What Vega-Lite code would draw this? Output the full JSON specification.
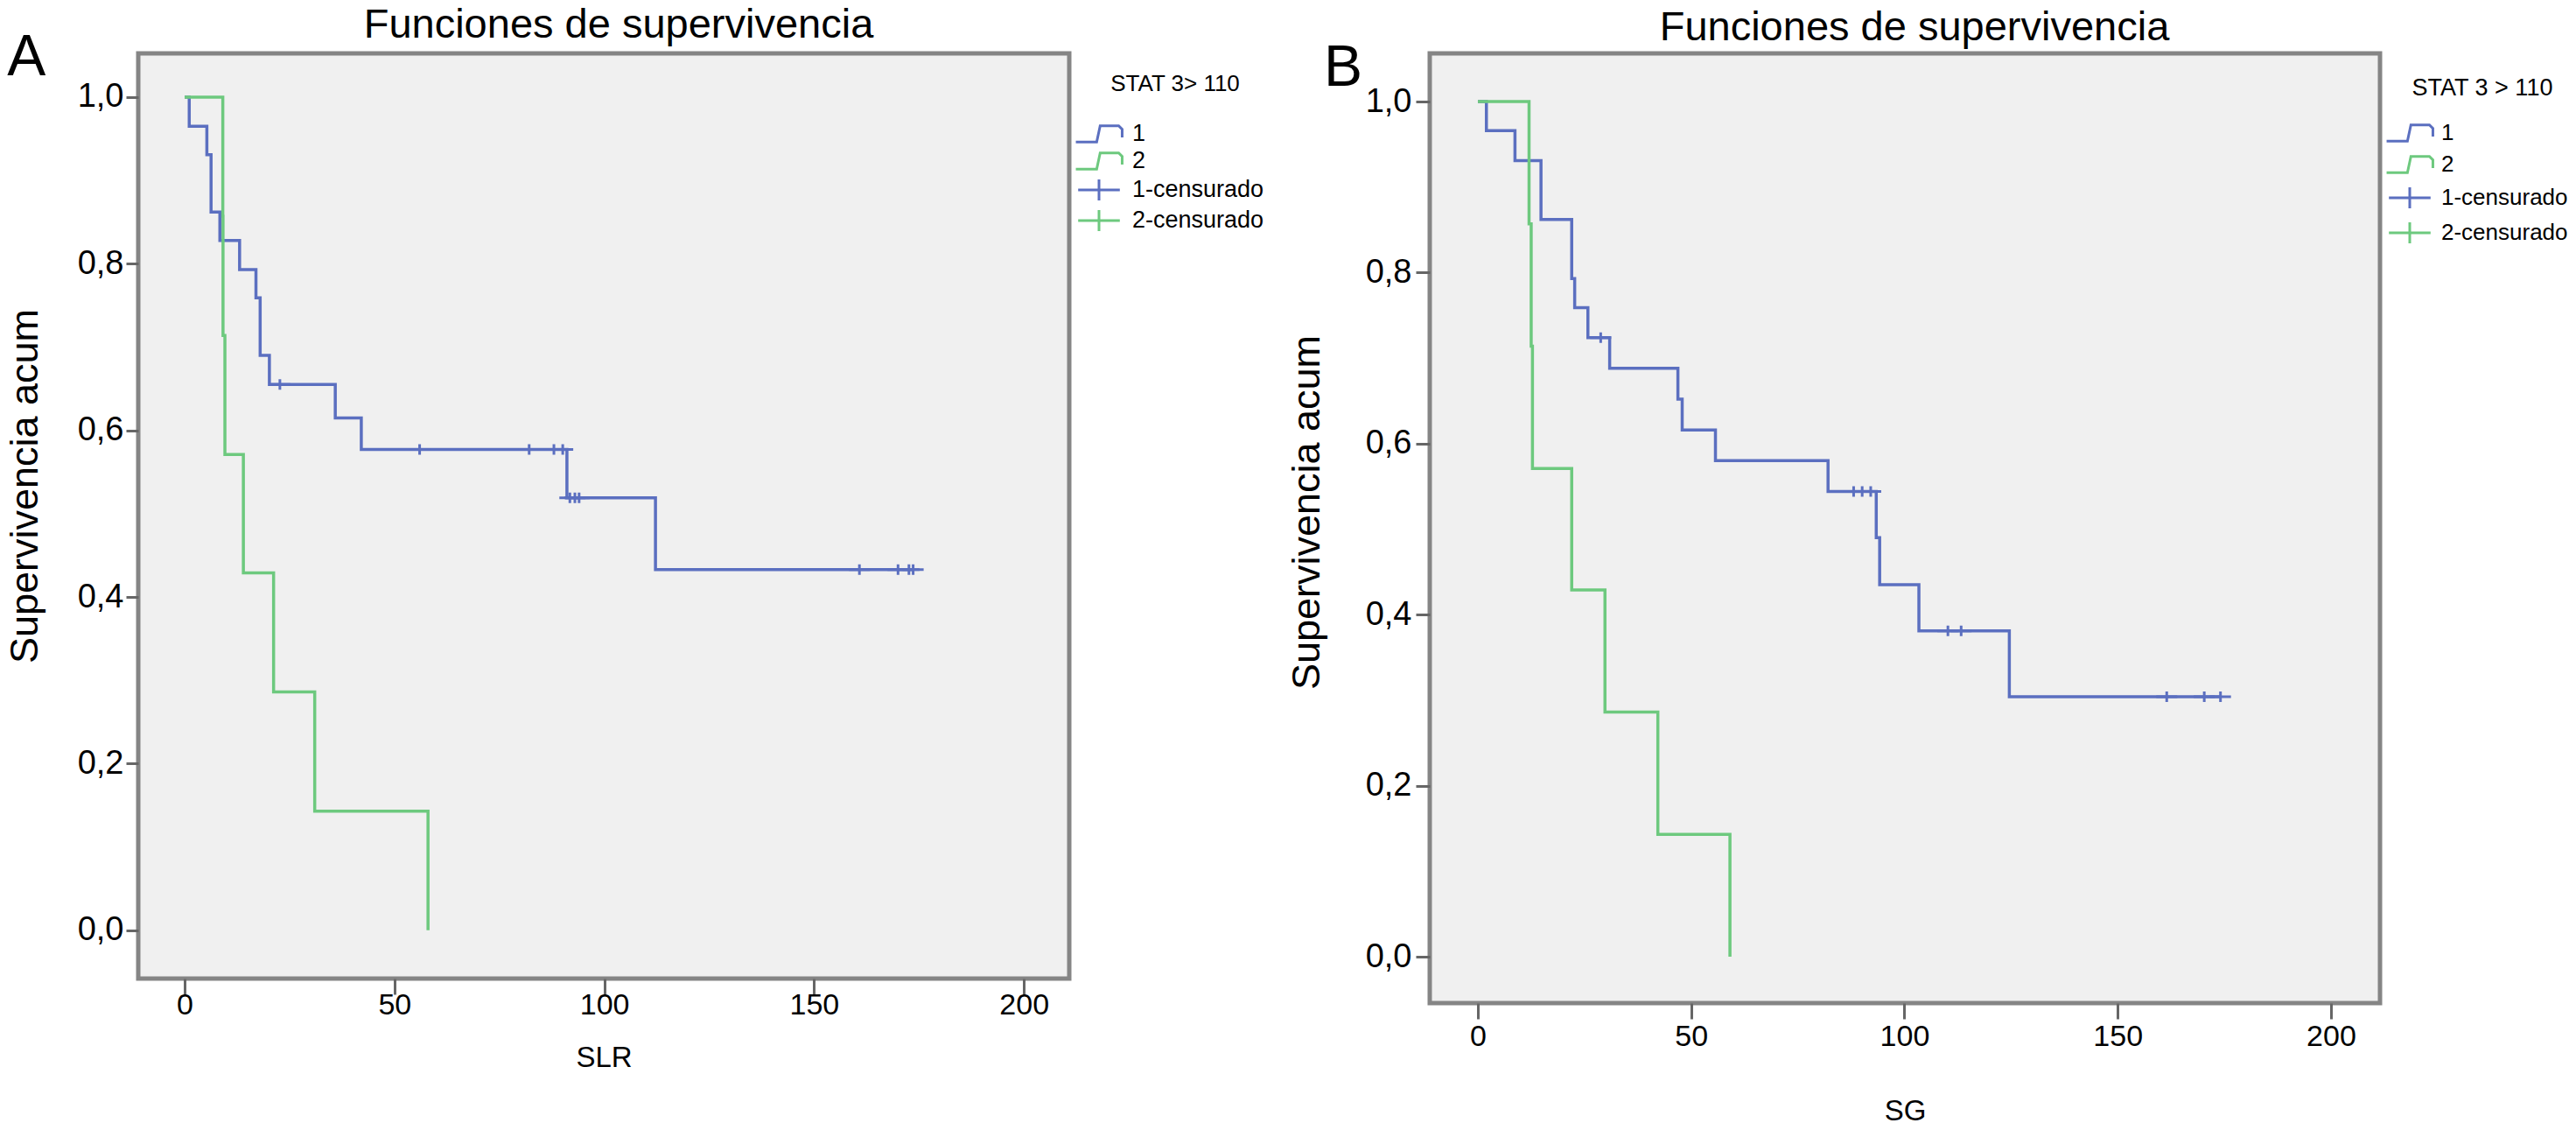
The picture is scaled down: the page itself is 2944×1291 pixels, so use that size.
{
  "$schema": "https://vega.github.io/schema/vega-lite/v6.json",
  "description": "Curvas de Kaplan-Meier: SLR y SG segun STAT 3 > 110",
  "background": "white",
  "padding": {"left": 3, "top": 2, "right": 0, "bottom": 0},
  "spacing": 20,
  "resolve": {
    "scale": {"x": "independent", "y": "independent", "color": "independent", "shape": "independent", "stroke": "independent"},
    "legend": {"color": "independent", "shape": "independent"}
  },
  "config": {
    "font": "Liberation Sans",
    "view": {"fill": "#f0f0f0", "stroke": "#858585", "strokeWidth": 5},
    "title": {"fontSize": 47, "fontWeight": "normal", "color": "#000000", "anchor": "middle"},
    "axis": {
      "domain": false, "grid": false, "tickColor": "#666666", "tickWidth": 3,
      "labelColor": "#000000", "labelFlush": false, "titleColor": "#000000", "titleFontWeight": "normal"
    },
    "legend": {"padding": 0, "labelColor": "#000000", "titleColor": "#000000", "titleFontWeight": "normal", "titleLimit": 500, "labelLimit": 400}
  },
  "datasets": {
    "slr": [
      {"grupo": "1", "tiempo": 0, "supervivencia": 1.0},
      {"grupo": "1", "tiempo": 1.1, "supervivencia": 0.965},
      {"grupo": "1", "tiempo": 5.3, "supervivencia": 0.931},
      {"grupo": "1", "tiempo": 6.3, "supervivencia": 0.862},
      {"grupo": "1", "tiempo": 8.4, "supervivencia": 0.828},
      {"grupo": "1", "tiempo": 13.1, "supervivencia": 0.793},
      {"grupo": "1", "tiempo": 17.0, "supervivencia": 0.759},
      {"grupo": "1", "tiempo": 18.0, "supervivencia": 0.690},
      {"grupo": "1", "tiempo": 20.2, "supervivencia": 0.655},
      {"grupo": "1", "tiempo": 35.9, "supervivencia": 0.615},
      {"grupo": "1", "tiempo": 42.1, "supervivencia": 0.577},
      {"grupo": "1", "tiempo": 91.1, "supervivencia": 0.519},
      {"grupo": "1", "tiempo": 112.2, "supervivencia": 0.433},
      {"grupo": "1", "tiempo": 173.6, "supervivencia": 0.433},
      {"grupo": "2", "tiempo": 0, "supervivencia": 1.0},
      {"grupo": "2", "tiempo": 9.1, "supervivencia": 0.857},
      {"grupo": "2", "tiempo": 9.15, "supervivencia": 0.714},
      {"grupo": "2", "tiempo": 9.6, "supervivencia": 0.571},
      {"grupo": "2", "tiempo": 14.0, "supervivencia": 0.429},
      {"grupo": "2", "tiempo": 21.2, "supervivencia": 0.286},
      {"grupo": "2", "tiempo": 31.0, "supervivencia": 0.143},
      {"grupo": "2", "tiempo": 58.0, "supervivencia": 0.0}
    ],
    "slr_cens": [
      {"grupo": "1-censurado", "tiempo": 22.7, "supervivencia": 0.655},
      {"grupo": "1-censurado", "tiempo": 56.0, "supervivencia": 0.577},
      {"grupo": "1-censurado", "tiempo": 82.1, "supervivencia": 0.577},
      {"grupo": "1-censurado", "tiempo": 88.0, "supervivencia": 0.577},
      {"grupo": "1-censurado", "tiempo": 90.1, "supervivencia": 0.577},
      {"grupo": "1-censurado", "tiempo": 91.8, "supervivencia": 0.519},
      {"grupo": "1-censurado", "tiempo": 93.0, "supervivencia": 0.519},
      {"grupo": "1-censurado", "tiempo": 94.0, "supervivencia": 0.519},
      {"grupo": "1-censurado", "tiempo": 160.8, "supervivencia": 0.433},
      {"grupo": "1-censurado", "tiempo": 170.0, "supervivencia": 0.433},
      {"grupo": "1-censurado", "tiempo": 172.6, "supervivencia": 0.433},
      {"grupo": "1-censurado", "tiempo": 173.6, "supervivencia": 0.433}
    ],
    "sg": [
      {"grupo": "1", "tiempo": 0, "supervivencia": 1.0},
      {"grupo": "1", "tiempo": 2.0, "supervivencia": 0.966},
      {"grupo": "1", "tiempo": 8.7, "supervivencia": 0.931},
      {"grupo": "1", "tiempo": 14.8, "supervivencia": 0.862},
      {"grupo": "1", "tiempo": 22.0, "supervivencia": 0.793},
      {"grupo": "1", "tiempo": 22.7, "supervivencia": 0.759},
      {"grupo": "1", "tiempo": 25.8, "supervivencia": 0.724},
      {"grupo": "1", "tiempo": 30.9, "supervivencia": 0.688},
      {"grupo": "1", "tiempo": 46.9, "supervivencia": 0.652},
      {"grupo": "1", "tiempo": 47.9, "supervivencia": 0.616},
      {"grupo": "1", "tiempo": 55.7, "supervivencia": 0.580},
      {"grupo": "1", "tiempo": 82.1, "supervivencia": 0.544},
      {"grupo": "1", "tiempo": 93.4, "supervivencia": 0.490},
      {"grupo": "1", "tiempo": 94.2, "supervivencia": 0.435},
      {"grupo": "1", "tiempo": 103.4, "supervivencia": 0.381},
      {"grupo": "1", "tiempo": 124.6, "supervivencia": 0.304},
      {"grupo": "1", "tiempo": 174.1, "supervivencia": 0.304},
      {"grupo": "2", "tiempo": 0, "supervivencia": 1.0},
      {"grupo": "2", "tiempo": 12.0, "supervivencia": 0.857},
      {"grupo": "2", "tiempo": 12.5, "supervivencia": 0.714},
      {"grupo": "2", "tiempo": 12.8, "supervivencia": 0.571},
      {"grupo": "2", "tiempo": 22.0, "supervivencia": 0.429},
      {"grupo": "2", "tiempo": 29.8, "supervivencia": 0.286},
      {"grupo": "2", "tiempo": 42.2, "supervivencia": 0.143},
      {"grupo": "2", "tiempo": 59.1, "supervivencia": 0.0}
    ],
    "sg_cens": [
      {"grupo": "1-censurado", "tiempo": 28.8, "supervivencia": 0.724},
      {"grupo": "1-censurado", "tiempo": 88.1, "supervivencia": 0.544},
      {"grupo": "1-censurado", "tiempo": 90.1, "supervivencia": 0.544},
      {"grupo": "1-censurado", "tiempo": 92.1, "supervivencia": 0.544},
      {"grupo": "1-censurado", "tiempo": 110.2, "supervivencia": 0.381},
      {"grupo": "1-censurado", "tiempo": 113.3, "supervivencia": 0.381},
      {"grupo": "1-censurado", "tiempo": 161.5, "supervivencia": 0.304},
      {"grupo": "1-censurado", "tiempo": 170.3, "supervivencia": 0.304},
      {"grupo": "1-censurado", "tiempo": 174.1, "supervivencia": 0.304}
    ],
    "panel_a": [{"panel": "A"}],
    "panel_b": [{"panel": "B"}]
  },
  "hconcat": [
    {
      "width": 1064,
      "height": 1057,
      "title": {"text": "Funciones de supervivencia", "dx": 17, "offset": -20},
      "layer": [
        {
          "data": {"name": "slr"},
          "mark": {"type": "line", "interpolate": "step-after", "strokeWidth": 3.5},
          "encoding": {
            "x": {
              "field": "tiempo", "type": "quantitative",
              "scale": {"domain": [-11.05, 210.8], "nice": false, "zero": false},
              "axis": {"title": "SLR", "values": [0, 50, 100, 150, 200], "tickSize": 18, "labelFontSize": 34, "labelPadding": -5, "titleFontSize": 33, "titlePadding": 27}
            },
            "y": {
              "field": "supervivencia", "type": "quantitative",
              "scale": {"domain": [-0.058, 1.0525], "nice": false, "zero": false},
              "axis": {
                "title": "Supervivencia acum", "values": [0, 0.2, 0.4, 0.6, 0.8, 1],
                "labelExpr": "replace(format(datum.value, '.1f'), '.', ',')",
                "tickSize": 14, "labelFontSize": 38, "labelPadding": 3,
                "titleFontSize": 45, "titlePadding": 37, "titleY": 494
              }
            },
            "stroke": {"field": "grupo", "type": "nominal", "scale": {"domain": ["1", "2"], "range": ["#5b6fc0", "#6dc97e"]}, "legend": null}
          }
        },
        {
          "data": {"name": "slr_cens"},
          "mark": {"type": "point", "filled": false, "size": 178, "strokeWidth": 3, "opacity": 1},
          "encoding": {
            "x": {
              "field": "tiempo", "type": "quantitative",
              "axis": {"title": "SLR", "values": [0, 50, 100, 150, 200], "tickSize": 18, "labelFontSize": 34, "labelPadding": -5, "titleFontSize": 33, "titlePadding": 27}
            },
            "y": {
              "field": "supervivencia", "type": "quantitative",
              "axis": {
                "title": "Supervivencia acum", "values": [0, 0.2, 0.4, 0.6, 0.8, 1],
                "labelExpr": "replace(format(datum.value, '.1f'), '.', ',')",
                "tickSize": 14, "labelFontSize": 38, "labelPadding": 3,
                "titleFontSize": 45, "titlePadding": 37, "titleY": 494
              }
            },
            "color": {
              "field": "grupo", "type": "nominal",
              "scale": {"domain": ["1", "2", "1-censurado", "2-censurado"], "range": ["#5b6fc0", "#6dc97e", "#5b6fc0", "#6dc97e"]},
              "legend": {
                "title": "STAT 3> 110", "orient": "none", "legendX": 1083, "legendY": 22,
                "titleFontSize": 26, "titleAnchor": "middle", "titlePadding": 29,
                "labelFontSize": 27, "labelOffset": 23, "rowPadding": -1,
                "symbolSize": 700, "symbolStrokeWidth": 3,
                "encode": {"symbols": {"update": {"size": {"value": 700}, "strokeWidth": {"value": 3}, "fill": {"value": "transparent"}}}}
              }
            },
            "shape": {
              "field": "grupo", "type": "nominal",
              "scale": {
                "domain": ["1", "2", "1-censurado", "2-censurado"],
                "range": [
                  "M-2,0.7L-0.2,0.7L0.1,-0.7L1.7,-0.7L2,-0.4L2,0.3",
                  "M-2,0.7L-0.2,0.7L0.1,-0.7L1.7,-0.7L2,-0.4L2,0.3",
                  "M-1.8,0L1.8,0M0,-0.9L0,0.9",
                  "M-1.8,0L1.8,0M0,-0.9L0,0.9"
                ]
              },
              "legend": {
                "title": "STAT 3> 110", "orient": "none", "legendX": 1083, "legendY": 22,
                "titleFontSize": 26, "titleAnchor": "middle", "titlePadding": 29,
                "labelFontSize": 27, "labelOffset": 23, "rowPadding": -1,
                "symbolSize": 700, "symbolStrokeWidth": 3,
                "encode": {"symbols": {"update": {"size": {"value": 700}, "strokeWidth": {"value": 3}, "fill": {"value": "transparent"}}}}
              }
            }
          }
        },
        {
          "data": {"name": "panel_a"},
          "mark": {"type": "text", "fontSize": 66, "align": "center", "baseline": "alphabetic", "color": "#000000"},
          "encoding": {
            "x": {
              "datum": -37.7, "type": "quantitative",
              "axis": {"title": "SLR", "values": [0, 50, 100, 150, 200], "tickSize": 18, "labelFontSize": 34, "labelPadding": -5, "titleFontSize": 33, "titlePadding": 27}
            },
            "y": {
              "datum": 1.026, "type": "quantitative",
              "axis": {
                "title": "Supervivencia acum", "values": [0, 0.2, 0.4, 0.6, 0.8, 1],
                "labelExpr": "replace(format(datum.value, '.1f'), '.', ',')",
                "tickSize": 14, "labelFontSize": 38, "labelPadding": 3,
                "titleFontSize": 45, "titlePadding": 37, "titleY": 494
              }
            },
            "text": {"field": "panel"}
          }
        }
      ]
    },
    {
      "width": 1086,
      "height": 1085,
      "title": {"text": "Funciones de supervivencia", "dx": 11, "offset": -11},
      "layer": [
        {
          "data": {"name": "sg"},
          "mark": {"type": "line", "interpolate": "step-after", "strokeWidth": 3.5},
          "encoding": {
            "x": {
              "field": "tiempo", "type": "quantitative",
              "scale": {"domain": [-11.28, 211.5], "nice": false, "zero": false},
              "axis": {"title": "SG", "values": [0, 50, 100, 150, 200], "tickSize": 18, "labelFontSize": 34, "labelPadding": 3, "titleFontSize": 33, "titlePadding": 52}
            },
            "y": {
              "field": "supervivencia", "type": "quantitative",
              "scale": {"domain": [-0.0542, 1.0563], "nice": false, "zero": false},
              "axis": {
                "title": "Supervivencia acum", "values": [0, 0.2, 0.4, 0.6, 0.8, 1],
                "labelExpr": "replace(format(datum.value, '.1f'), '.', ',')",
                "tickSize": 16, "labelFontSize": 38, "labelPadding": 5,
                "titleFontSize": 45, "titlePadding": 44, "titleY": 524
              }
            },
            "stroke": {"field": "grupo", "type": "nominal", "scale": {"domain": ["1", "2"], "range": ["#5b6fc0", "#6dc97e"]}, "legend": null}
          }
        },
        {
          "data": {"name": "sg_cens"},
          "mark": {"type": "point", "filled": false, "size": 178, "strokeWidth": 3, "opacity": 1},
          "encoding": {
            "x": {
              "field": "tiempo", "type": "quantitative",
              "axis": {"title": "SG", "values": [0, 50, 100, 150, 200], "tickSize": 18, "labelFontSize": 34, "labelPadding": 3, "titleFontSize": 33, "titlePadding": 52}
            },
            "y": {
              "field": "supervivencia", "type": "quantitative",
              "axis": {
                "title": "Supervivencia acum", "values": [0, 0.2, 0.4, 0.6, 0.8, 1],
                "labelExpr": "replace(format(datum.value, '.1f'), '.', ',')",
                "tickSize": 16, "labelFontSize": 38, "labelPadding": 5,
                "titleFontSize": 45, "titlePadding": 44, "titleY": 524
              }
            },
            "color": {
              "field": "grupo", "type": "nominal",
              "scale": {"domain": ["1", "2", "1-censurado", "2-censurado"], "range": ["#5b6fc0", "#6dc97e", "#5b6fc0", "#6dc97e"]},
              "legend": {
                "title": "STAT 3 > 110", "orient": "none", "legendX": 1105, "legendY": 27,
                "titleFontSize": 27, "titleAnchor": "middle", "titlePadding": 22,
                "labelFontSize": 26, "labelOffset": 21, "rowPadding": 4,
                "symbolSize": 700, "symbolStrokeWidth": 3,
                "encode": {"symbols": {"update": {"size": {"value": 700}, "strokeWidth": {"value": 3}, "fill": {"value": "transparent"}}}}
              }
            },
            "shape": {
              "field": "grupo", "type": "nominal",
              "scale": {
                "domain": ["1", "2", "1-censurado", "2-censurado"],
                "range": [
                  "M-2,0.7L-0.2,0.7L0.1,-0.7L1.7,-0.7L2,-0.4L2,0.3",
                  "M-2,0.7L-0.2,0.7L0.1,-0.7L1.7,-0.7L2,-0.4L2,0.3",
                  "M-1.8,0L1.8,0M0,-0.9L0,0.9",
                  "M-1.8,0L1.8,0M0,-0.9L0,0.9"
                ]
              },
              "legend": {
                "title": "STAT 3 > 110", "orient": "none", "legendX": 1105, "legendY": 27,
                "titleFontSize": 27, "titleAnchor": "middle", "titlePadding": 22,
                "labelFontSize": 26, "labelOffset": 21, "rowPadding": 4,
                "symbolSize": 700, "symbolStrokeWidth": 3,
                "encode": {"symbols": {"update": {"size": {"value": 700}, "strokeWidth": {"value": 3}, "fill": {"value": "transparent"}}}}
              }
            }
          }
        },
        {
          "data": {"name": "panel_b"},
          "mark": {"type": "text", "fontSize": 66, "align": "center", "baseline": "alphabetic", "color": "#000000"},
          "encoding": {
            "x": {
              "datum": -31.6, "type": "quantitative",
              "axis": {"title": "SG", "values": [0, 50, 100, 150, 200], "tickSize": 18, "labelFontSize": 34, "labelPadding": 3, "titleFontSize": 33, "titlePadding": 52}
            },
            "y": {
              "datum": 1.0184, "type": "quantitative",
              "axis": {
                "title": "Supervivencia acum", "values": [0, 0.2, 0.4, 0.6, 0.8, 1],
                "labelExpr": "replace(format(datum.value, '.1f'), '.', ',')",
                "tickSize": 16, "labelFontSize": 38, "labelPadding": 5,
                "titleFontSize": 45, "titlePadding": 44, "titleY": 524
              }
            },
            "text": {"field": "panel"}
          }
        }
      ]
    }
  ]
}
